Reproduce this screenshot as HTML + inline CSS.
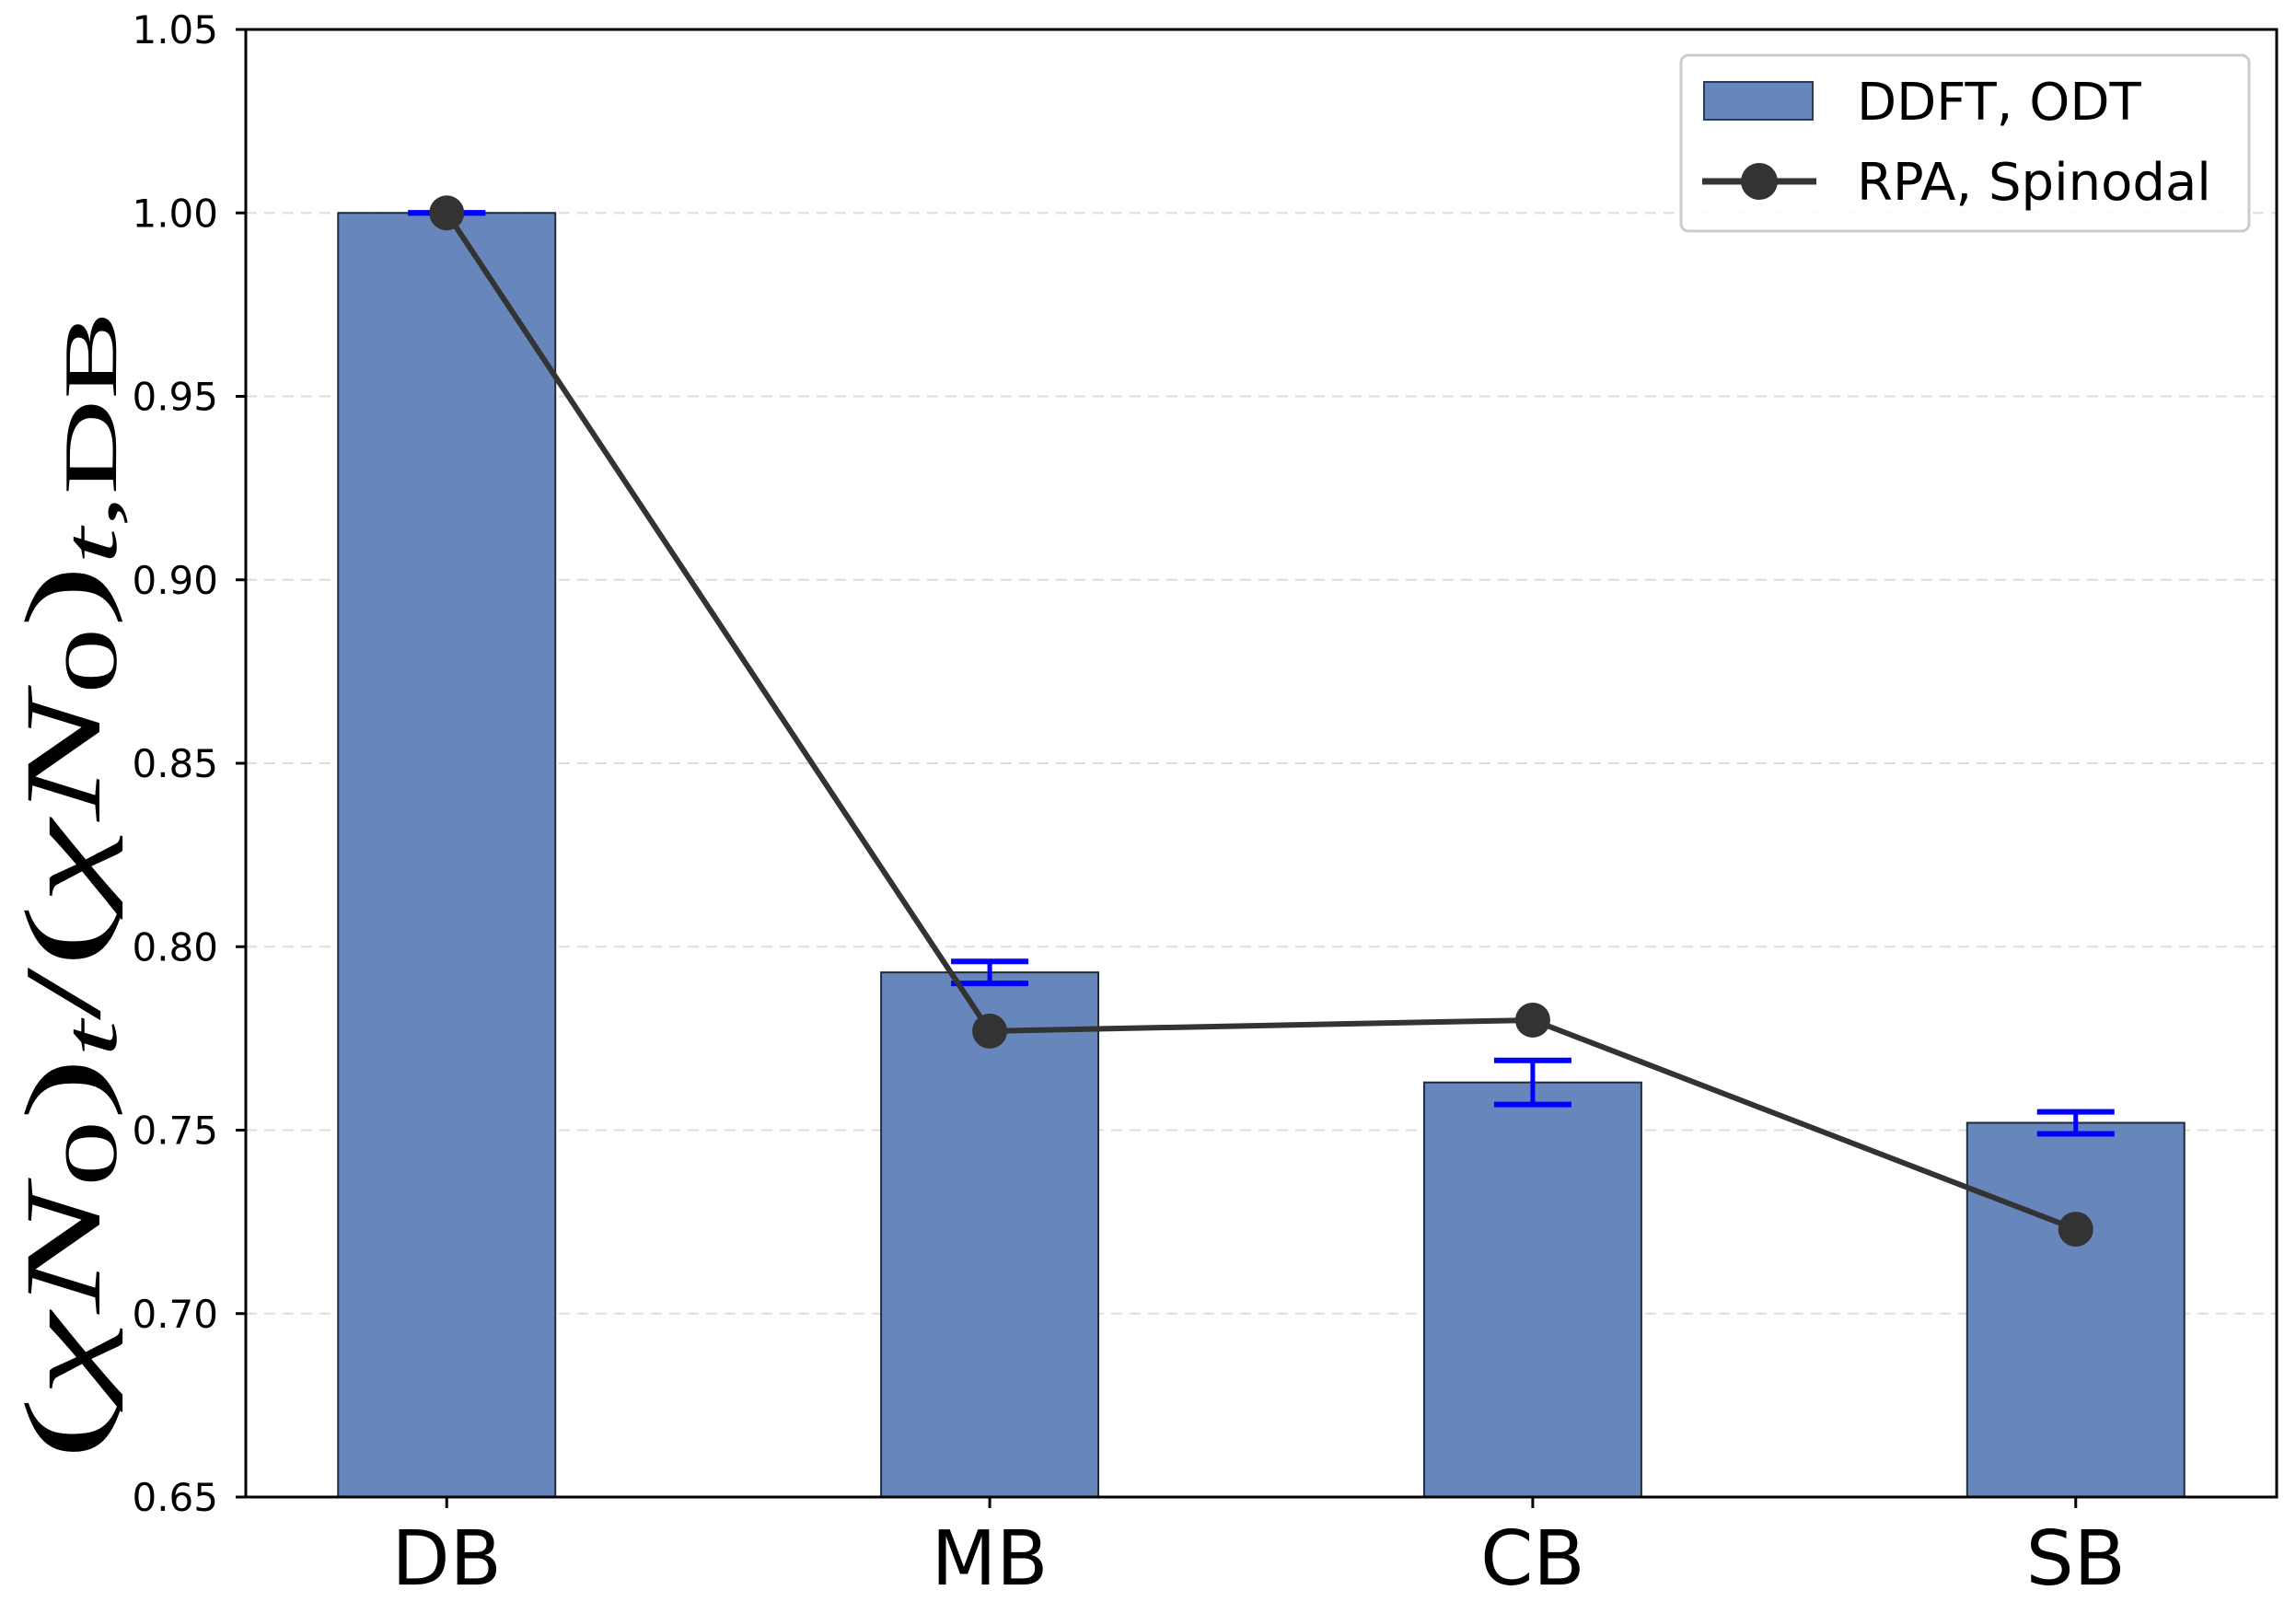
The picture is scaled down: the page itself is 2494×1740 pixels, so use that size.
<!DOCTYPE html>
<html><head><meta charset="utf-8"><style>
html,body{margin:0;padding:0;background:#fff;}
svg{display:block;font-family:"DejaVu Sans","Liberation Sans",sans-serif;}
</style></head><body>
<svg id="chart" width="2494" height="1740" viewBox="0 0 2494 1740">
<g id="grid"></g>
<g id="bars"></g>
<g id="errs"></g>
<g id="line"></g>
<rect x="267" y="32" width="2206" height="1594" fill="none" stroke="#000" stroke-width="3"/>
<g id="yticks"></g>
<g id="xticks"></g>
<text transform="translate(108,962) rotate(-90) scale(1.75,1)" text-anchor="middle" font-family="'Liberation Serif',serif" font-size="118">(<tspan font-style="italic">χN</tspan><tspan font-size="82" dy="18">0</tspan><tspan dy="-18">)</tspan><tspan font-style="italic" font-size="82" dy="18">t</tspan><tspan dy="-18">/(</tspan><tspan font-style="italic">χN</tspan><tspan font-size="82" dy="18">0</tspan><tspan dy="-18">)</tspan><tspan font-size="82" dy="18"><tspan font-style="italic">t</tspan>,DB</tspan></text>
<g>
<rect x="1826" y="60" width="617" height="191" rx="8" fill="#fff" fill-opacity="0.9" stroke="#ccc" stroke-width="3"/>
<rect x="1851" y="89" width="118" height="41" fill="#6787bc" stroke="#2b3a55" stroke-width="2"/>
<text x="2017" y="130" font-size="56">DDFT, ODT</text>
<line x1="1849" y1="197" x2="1973" y2="197" stroke="#333" stroke-width="7"/>
<circle cx="1911" cy="197" r="20" fill="#333"/>
<text x="2017" y="217" font-size="56">RPA, Spinodal</text>
</g>
</svg>
<script>
const categories = ["DB","MB","CB","SB"];
const ddftValues = [1.000, 0.793, 0.763, 0.752];
const ddftErrors = [0.000, 0.003, 0.006, 0.003];
const rpaValues = [1.000, 0.777, 0.780, 0.723];
const yTicks = [0.65,0.70,0.75,0.80,0.85,0.90,0.95,1.00,1.05];
const yTickLabels = ["0.65","0.70","0.75","0.80","0.85","0.90","0.95","1.00","1.05"];

const NS="http://www.w3.org/2000/svg";
const L=267,R=2473,T=32,B=1626;
const yMin=0.65,yMax=1.05,xMin=-0.37,xMax=3.37;
function xs(i){return L+(i-xMin)/(xMax-xMin)*(R-L);}
function ys(v){return B-(v-yMin)/(yMax-yMin)*(B-T);}
function mk(tag,attrs,parent){const e=document.createElementNS(NS,tag);for(const k in attrs)e.setAttribute(k,attrs[k]);document.getElementById(parent).appendChild(e);return e;}
const bw=(xs(0.4)-xs(0));

yTicks.forEach((t,i)=>{
  const y=ys(t);
  if(t>yMin&&t<yMax){
    const g=mk('line',{x1:L,x2:R,y1:y,y2:y,stroke:'#ddd','stroke-width':2,'stroke-dasharray':'12 8'},'grid');
    
    
  }
  const tk=mk('line',{x1:L-11,x2:L,y1:y,y2:y,stroke:'#000','stroke-width':3},'yticks');
  
  
  const tx=mk('text',{x:L-30,y:y+15,'text-anchor':'end','font-size':42},'yticks');
  tx.textContent=yTickLabels[i];
  
  
});

categories.forEach((c,i)=>{
  const x=xs(i);
  const b=mk('rect',{x:x-bw/2,y:ys(ddftValues[i]),width:bw,height:B-ys(ddftValues[i]),fill:'#6787bc',stroke:'#1f2a3c','stroke-width':2},'bars');
  
  
  const lo=ys(ddftValues[i]-ddftErrors[i]),hi=ys(ddftValues[i]+ddftErrors[i]);
  const e1=mk('line',{x1:x,x2:x,y1:lo,y2:hi,stroke:'#0000ff','stroke-width':5},'errs');
  
  
  [lo,hi].forEach(yy=>{
    const cap=mk('line',{x1:x-42,x2:x+42,y1:yy,y2:yy,stroke:'#0000ff','stroke-width':6},'errs');
    
    
  });
  const tk=mk('line',{x1:x,x2:x,y1:B,y2:B+12,stroke:'#000','stroke-width':3},'xticks');
  
  
  const tx=mk('text',{x:x,y:B+95,'text-anchor':'middle','font-size':82},'xticks');
  tx.textContent=c;
  
  
});

const pts=rpaValues.map((v,i)=>xs(i)+','+ys(v)).join(' ');
const pl=mk('polyline',{points:pts,fill:'none',stroke:'#333','stroke-width':6},'line');


rpaValues.forEach((v,i)=>{
  const c=mk('circle',{cx:xs(i),cy:ys(v),r:19,fill:'#333'},'line');
  
  
});
</script>
</body></html>
